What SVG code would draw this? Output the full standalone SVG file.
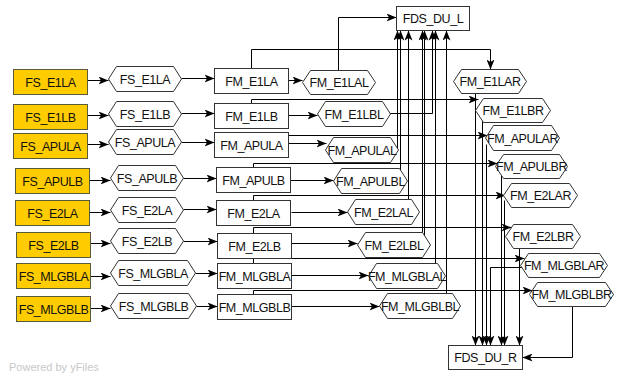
<svg xmlns="http://www.w3.org/2000/svg" width="620" height="376" viewBox="0 0 620 376">
<defs>
<marker id="arr" viewBox="0 0 10 8" refX="10" refY="4" markerWidth="10" markerHeight="8" markerUnits="userSpaceOnUse" orient="auto">
<path d="M0,0 L10,4 L0,8 L2.5,4 z" fill="#000"/>
</marker>
<style>
.e{fill:none;stroke:#000;stroke-width:1;marker-end:url(#arr)}
.y{fill:#FFCC00;stroke:#5a5a3c;stroke-width:1}
.r{fill:#fff;stroke:#333;stroke-width:1}
.h{fill:#fff;stroke:#333;stroke-width:1}
text{font-family:"Liberation Sans",Arial,sans-serif;font-size:12.5px;fill:#111;text-anchor:middle;letter-spacing:-0.45px}
.pw{font-size:11px;fill:#c8c8c8;text-anchor:start;letter-spacing:0}
</style>
</defs>
<rect width="620" height="376" fill="#fff"/>
<g id="edges" transform="translate(0.5,0.5)">
<path class="e" d="M87,80 H108"/>
<path class="e" d="M181,78 H214"/>
<path class="e" d="M87,115 H108"/>
<path class="e" d="M181,113 H214"/>
<path class="e" d="M87,144 H108"/>
<path class="e" d="M181,142 H214"/>
<path class="e" d="M89,180 H110"/>
<path class="e" d="M183,178 H216"/>
<path class="e" d="M89,212 H110"/>
<path class="e" d="M183,209 H216"/>
<path class="e" d="M90,243 H110"/>
<path class="e" d="M183,241 H217"/>
<path class="e" d="M90,276 H110"/>
<path class="e" d="M195,273 H217"/>
<path class="e" d="M90,308 H110"/>
<path class="e" d="M196,306 H217"/>
<path class="e" d="M288,80 H302"/>
<path class="e" d="M288,115 H317"/>
<path class="e" d="M288,143 H326"/>
<path class="e" d="M290,180 H333"/>
<path class="e" d="M291,212 H347"/>
<path class="e" d="M291,243 H357"/>
<path class="e" d="M291,275 H368"/>
<path class="e" d="M291,306 H379"/>
<path class="e" d="M251,68 V49 H490 V69"/>
<path class="e" d="M251,103 V99 H478"/>
<path class="e" d="M288,135 H487"/>
<path class="e" d="M253,167 V163 H497"/>
<path class="e" d="M253,200 V195 H505"/>
<path class="e" d="M253,233 V227 H511"/>
<path class="e" d="M253,263 V258 H524"/>
<path class="e" d="M253,294 V290 H532"/>
<path class="e" d="M338,75 V17 H396"/>
<path class="e" d="M385,113 H432 V30"/>
<path class="e" d="M397,148 V30"/>
<path class="e" d="M400,172 V30"/>
<path class="e" d="M408,205 V30"/>
<path class="e" d="M422,238 V30"/>
<path class="e" d="M424,238 V30"/>
<path class="e" d="M435,268 V30"/>
<path class="e" d="M446,298 V30"/>
<path class="e" d="M475,85 V345"/>
<path class="e" d="M482,115 V345"/>
<path class="e" d="M486,144 V345"/>
<path class="e" d="M525,267 H490 V345"/>
<path class="e" d="M501,172 V345"/>
<path class="e" d="M504,200 V345"/>
<path class="e" d="M519,242 V345"/>
<path class="e" d="M572,300 V357 H522"/>
</g>
<g transform="translate(0.5,0.5)">
<g id="n_FS_E1LA_src"><rect class="y" x="13" y="69" width="74" height="25"/><text x="50" y="86">FS_E1LA</text></g>
<g id="n_FS_E1LB_src"><rect class="y" x="13" y="104" width="74" height="25"/><text x="50" y="121">FS_E1LB</text></g>
<g id="n_FS_APULA_src"><rect class="y" x="13" y="133" width="74" height="25"/><text x="50" y="150">FS_APULA</text></g>
<g id="n_FS_APULB_src"><rect class="y" x="15" y="168" width="74" height="25"/><text x="52" y="185">FS_APULB</text></g>
<g id="n_FS_E2LA_src"><rect class="y" x="15" y="200" width="74" height="25"/><text x="52" y="217">FS_E2LA</text></g>
<g id="n_FS_E2LB_src"><rect class="y" x="16" y="232" width="74" height="25"/><text x="53" y="249">FS_E2LB</text></g>
<g id="n_FS_MLGBLA_src"><rect class="y" x="16" y="263" width="74" height="25"/><text x="53" y="280">FS_MLGBLA</text></g>
<g id="n_FS_MLGBLB_src"><rect class="y" x="16" y="296" width="74" height="25"/><text x="53" y="313">FS_MLGBLB</text></g>

<g id="n_FS_E1LA"><polygon class="h" points="108,78.5 116,66 173,66 181,78.5 173,91 116,91"/><text x="144.5" y="83">FS_E1LA</text></g>
<g id="n_FS_E1LB"><polygon class="h" points="108,113.5 116,101 173,101 181,113.5 173,126 116,126"/><text x="144.5" y="118">FS_E1LB</text></g>
<g id="n_FS_APULA"><polygon class="h" points="108,141.5 116,129 173,129 181,141.5 173,154 116,154"/><text x="144.5" y="146">FS_APULA</text></g>
<g id="n_FS_APULB"><polygon class="h" points="110,177.5 118,165 175,165 183,177.5 175,190 118,190"/><text x="146.5" y="182">FS_APULB</text></g>
<g id="n_FS_E2LA"><polygon class="h" points="110,209.5 118,197 175,197 183,209.5 175,222 118,222"/><text x="146.5" y="214">FS_E2LA</text></g>
<g id="n_FS_E2LB"><polygon class="h" points="110,240.5 118,228 175,228 183,240.5 175,253 118,253"/><text x="146.5" y="245">FS_E2LB</text></g>
<g id="n_FS_MLGBLA"><polygon class="h" points="110,272.5 118,260 187,260 195,272.5 187,285 118,285"/><text x="152.5" y="277">FS_MLGBLA</text></g>
<g id="n_FS_MLGBLB"><polygon class="h" points="110,305.5 118,293 188,293 196,305.5 188,318 118,318"/><text x="153" y="310">FS_MLGBLB</text></g>

<g id="n_FM_E1LA"><rect class="r" x="214" y="68" width="74" height="25"/><text x="251" y="85">FM_E1LA</text></g>
<g id="n_FM_E1LB"><rect class="r" x="214" y="103" width="74" height="25"/><text x="251" y="120">FM_E1LB</text></g>
<g id="n_FM_APULA"><rect class="r" x="214" y="132" width="74" height="25"/><text x="251" y="149">FM_APULA</text></g>
<g id="n_FM_APULB"><rect class="r" x="216" y="167" width="74" height="25"/><text x="253" y="184">FM_APULB</text></g>
<g id="n_FM_E2LA"><rect class="r" x="216" y="200" width="74" height="25"/><text x="253" y="217">FM_E2LA</text></g>
<g id="n_FM_E2LB"><rect class="r" x="217" y="233" width="74" height="25"/><text x="254" y="250">FM_E2LB</text></g>
<g id="n_FM_MLGBLA"><rect class="r" x="217" y="263" width="74" height="25"/><text x="254" y="280">FM_MLGBLA</text></g>
<g id="n_FM_MLGBLB"><rect class="r" x="217" y="294" width="74" height="25"/><text x="254" y="311">FM_MLGBLB</text></g>

<g id="n_FM_E1LAL"><polygon class="h" points="302,82 310,70 367,70 375,82 367,94 310,94"/><text x="338.5" y="86.5">FM_E1LAL</text></g>
<g id="n_FM_E1LBL"><polygon class="h" points="317,113.5 325,101 382,101 390,113.5 382,126 325,126"/><text x="353.5" y="118">FM_E1LBL</text></g>
<g id="n_FM_APULAL"><polygon class="h" points="325,149.5 333,137 390,137 398,149.5 390,162 333,162"/><text x="361.5" y="154">FM_APULAL</text></g>
<g id="n_FM_APULBL"><polygon class="h" points="333,180.5 341,168 399,168 407,180.5 399,193 341,193"/><text x="370" y="185">FM_APULBL</text></g>
<g id="n_FM_E2LAL"><polygon class="h" points="347,211.5 355,199 411,199 419,211.5 411,224 355,224"/><text x="383" y="216">FM_E2LAL</text></g>
<g id="n_FM_E2LBL"><polygon class="h" points="357,244.5 365,232 422,232 430,244.5 422,257 365,257"/><text x="393.5" y="249">FM_E2LBL</text></g>
<g id="n_FM_MLGBLAL"><polygon class="h" points="368,275.5 376,263 437,263 445,275.5 437,288 376,288"/><text x="406.5" y="280">FM_MLGBLAL</text></g>
<g id="n_FM_MLGBLBL"><polygon class="h" points="379,305.5 387,293 452,293 460,305.5 452,318 387,318"/><text x="419.5" y="310">FM_MLGBLBL</text></g>

<g id="n_FM_E1LAR"><polygon class="h" points="453,81 461,69 518,69 526,81 518,93 461,93"/><text x="489.5" y="85.5">FM_E1LAR</text></g>
<g id="n_FM_E1LBR"><polygon class="h" points="475,110 483,98 542,98 550,110 542,122 483,122"/><text x="512.5" y="114.5">FM_E1LBR</text></g>
<g id="n_FM_APULAR"><polygon class="h" points="485,137.5 493,125 551,125 559,137.5 551,150 493,150"/><text x="522" y="142">FM_APULAR</text></g>
<g id="n_FM_APULBR"><polygon class="h" points="495,166 503,154 559,154 567,166 559,178 503,178"/><text x="531" y="170.5">FM_APULBR</text></g>
<g id="n_FM_E2LAR"><polygon class="h" points="503,195 511,183 569,183 577,195 569,207 511,207"/><text x="540" y="199.5">FM_E2LAR</text></g>
<g id="n_FM_E2LBR"><polygon class="h" points="505,236 513,224 572,224 580,236 572,248 513,248"/><text x="542.5" y="240.5">FM_E2LBR</text></g>
<g id="n_FM_MLGBLAR"><polygon class="h" points="520,265 528,253 599,253 607,265 599,277 528,277"/><text x="563.5" y="269.5">FM_MLGBLAR</text></g>
<g id="n_FM_MLGBLBR"><polygon class="h" points="529,294 537,282 605,282 613,294 605,306 537,306"/><text x="571" y="298.5">FM_MLGBLBR</text></g>

<g id="n_FDS_DU_L"><rect class="r" x="396" y="6" width="73" height="24"/><text x="432.5" y="22.5">FDS_DU_L</text></g>
<g id="n_FDS_DU_R"><rect class="r" x="448" y="345" width="74" height="24"/><text x="485" y="361.5">FDS_DU_R</text></g>
</g>
<text class="pw" x="9" y="371">Powered by yFiles</text>
</svg>
